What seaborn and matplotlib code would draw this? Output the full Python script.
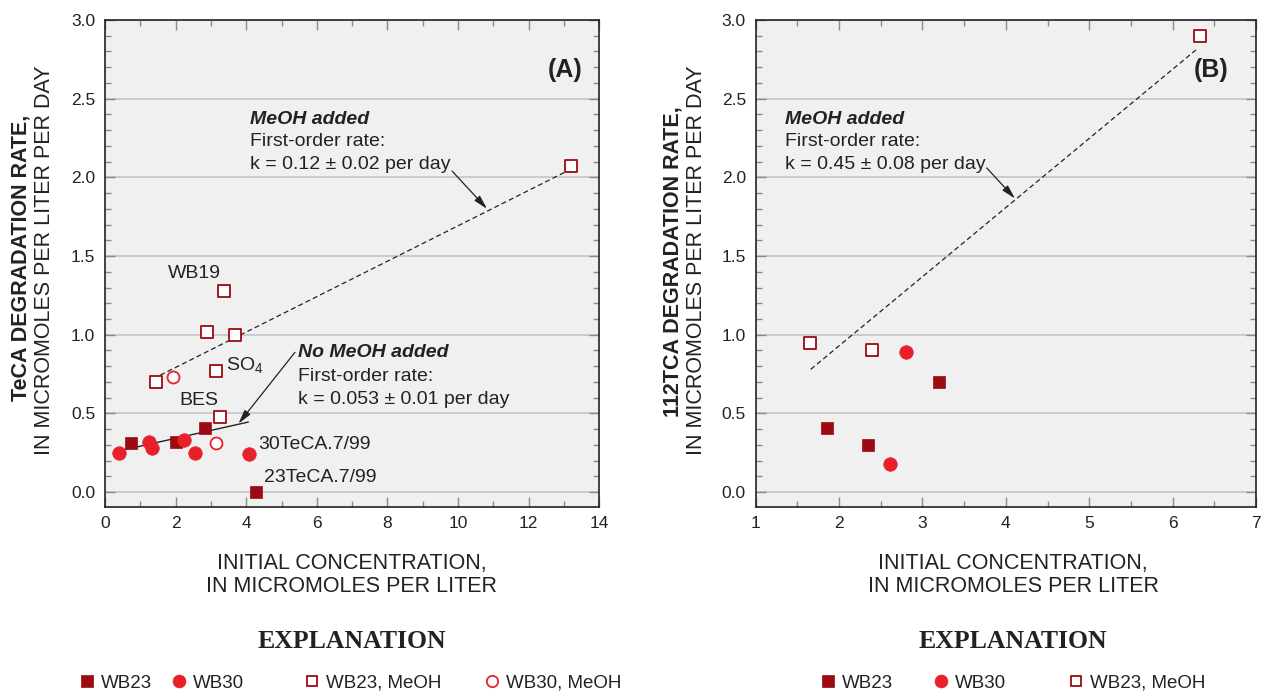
import numpy as np
import pandas as pd
import matplotlib
matplotlib.use('Agg')
import matplotlib.pyplot as plt
from matplotlib.lines import Line2D
from matplotlib.ticker import MultipleLocator
import seaborn as sns

# ---- data ----
# panel A: TeCA
a_wb23_x = [0.73, 2.01, 2.84, 4.27]
a_wb23_y = [0.31, 0.32, 0.41, 0.00]
a_wb30_x = [0.40, 1.25, 1.32, 2.24, 2.54, 4.07]
a_wb30_y = [0.25, 0.32, 0.28, 0.33, 0.25, 0.24]
a_wb23_meoh_x = [1.44, 2.90, 3.36, 3.67, 3.15, 3.25, 13.2]
a_wb23_meoh_y = [0.70, 1.02, 1.28, 1.00, 0.77, 0.48, 2.07]
a_wb30_meoh_x = [1.92, 3.14]
a_wb30_meoh_y = [0.73, 0.31]
a_fit_meoh_x = [1.36, 13.09]
a_fit_meoh_y = [0.72, 2.04]
a_fit_none_x = [0.57, 4.06]
a_fit_none_y = [0.27, 0.445]

# panel B: 112TCA
b_wb23_x = [1.855, 2.35, 3.20]
b_wb23_y = [0.41, 0.30, 0.70]
b_wb30_x = [2.61, 2.80]
b_wb30_y = [0.18, 0.89]
b_wb23_meoh_x = [1.655, 2.39, 6.33]
b_wb23_meoh_y = [0.95, 0.90, 2.90]
b_fit_meoh_x = [1.66, 6.28]
b_fit_meoh_y = [0.78, 2.81]

DARK = '#9c0a12'
RED = '#e8202a'

sns.set_theme(style='ticks')
plt.rcParams['font.family'] = ['Liberation Sans', 'DejaVu Sans']
plt.rcParams['mathtext.fontset'] = 'custom'
plt.rcParams['mathtext.rm'] = 'Liberation Sans'

W, H = 1261, 691
fig = plt.figure(figsize=(W / 100, H / 100), dpi=100)
axA = fig.add_axes([105 / W, 1 - 506.7 / H, 494.3 / W, 486.7 / H])
axB = fig.add_axes([755.7 / W, 1 - 506.7 / H, 500.3 / W, 486.7 / H])

styles = {
    'WB23': dict(marker='s', s=80, color=DARK, edgecolor=DARK, linewidth=0.5),
    'WB30': dict(marker='o', s=95, color=RED, edgecolor=RED, linewidth=0.5),
    'WB23, MeOH': dict(marker='s', s=66, color='white', edgecolor=DARK, linewidth=1.3),
    'WB30, MeOH': dict(marker='o', s=74, color='white', edgecolor=RED, linewidth=1.3),
}


def style_axes(ax, xlim, xmajor, xminor):
    ax.set_facecolor('#f0f0f0')
    ax.set_xlim(*xlim)
    ax.set_ylim(-0.093, 3.0)
    ax.xaxis.set_major_locator(MultipleLocator(xmajor))
    ax.xaxis.set_minor_locator(MultipleLocator(xminor))
    ax.yaxis.set_major_locator(MultipleLocator(0.5))
    ax.yaxis.set_minor_locator(MultipleLocator(0.1))
    ax.yaxis.set_major_formatter(matplotlib.ticker.FormatStrFormatter('%.1f'))
    ax.yaxis.grid(True, which='major', color='#c6c6c6', lw=1.3, zorder=0)
    ax.set_axisbelow(True)
    ax.tick_params(which='both', direction='in', top=True, right=True,
                   color='#8a8a8a', labelsize=12.5, labelcolor='#222222')
    ax.tick_params(which='major', length=7, width=1, pad=7)
    ax.tick_params(which='minor', length=4, width=1)
    for sp in ax.spines.values():
        sp.set_color('#222222')
        sp.set_linewidth(1.2)
    ax.set_xlabel('')
    ax.set_ylabel('')


def draw_points(ax, series):
    for name, (xs, ys) in series.items():
        sns.scatterplot(x=xs, y=ys, ax=ax, legend=False, zorder=4, **styles[name])


# ---- panel A ----
draw_points(axA, {
    'WB23': (a_wb23_x, a_wb23_y),
    'WB30': (a_wb30_x, a_wb30_y),
    'WB23, MeOH': (a_wb23_meoh_x, a_wb23_meoh_y),
    'WB30, MeOH': (a_wb30_meoh_x, a_wb30_meoh_y),
})
axA.plot(a_fit_meoh_x, a_fit_meoh_y, color='#222222', lw=0.9, dashes=(4, 2.5), zorder=3)
axA.plot(a_fit_none_x, a_fit_none_y, color='#222222', lw=1.0, zorder=3)
style_axes(axA, (0, 14), 2, 1)

tkw = dict(fontsize=14, color='#222222', va='center', ha='left')
axA.text(13.03, 2.68, '(A)', fontsize=18, fontweight='bold', ha='center', va='center', color='#222222')
axA.text(4.1, 2.37, 'MeOH added', fontweight='bold', style='italic', **tkw)
axA.text(4.1, 2.225, 'First-order rate:', **tkw)
axA.text(4.1, 2.08, 'k = 0.12 \u00b1 0.02 per day', **tkw)
axA.text(1.78, 1.39, 'WB19', **tkw)
axA.text(3.42, 0.80, r'SO$_\mathregular{4}$', **tkw)
axA.text(2.12, 0.585, 'BES', **tkw)
axA.text(5.47, 0.89, 'No MeOH added', fontweight='bold', style='italic', **tkw)
axA.text(5.47, 0.735, 'First-order rate:', **tkw)
axA.text(5.47, 0.59, 'k = 0.053 \u00b1 0.01 per day', **tkw)
axA.text(4.33, 0.30, '30TeCA.7/99', **tkw)
axA.text(4.5, 0.09, '23TeCA.7/99', **tkw)
arrow = dict(arrowstyle='-|>,head_length=0.7,head_width=0.18', color='#222222', lw=0.9,
             shrinkA=0, shrinkB=0)
axA.annotate('', xy=(10.82, 1.80), xytext=(9.83, 2.04), arrowprops=arrow)
axA.annotate('', xy=(3.78, 0.435), xytext=(5.38, 0.888), arrowprops=arrow)

# ---- panel B ----
draw_points(axB, {
    'WB23': (b_wb23_x, b_wb23_y),
    'WB30': (b_wb30_x, b_wb30_y),
    'WB23, MeOH': (b_wb23_meoh_x, b_wb23_meoh_y),
})
axB.plot(b_fit_meoh_x, b_fit_meoh_y, color='#222222', lw=0.9, dashes=(4, 2.5), zorder=3)
style_axes(axB, (1, 7), 1, 0.5)

axB.text(6.46, 2.68, '(B)', fontsize=18, fontweight='bold', ha='center', va='center', color='#222222')
axB.text(1.35, 2.37, 'MeOH added', fontweight='bold', style='italic', **tkw)
axB.text(1.35, 2.225, 'First-order rate:', **tkw)
axB.text(1.35, 2.08, 'k = 0.45 \u00b1 0.08 per day', **tkw)
axB.annotate('', xy=(4.11, 1.865), xytext=(3.77, 2.06), arrowprops=arrow)

# ---- axis titles ----
lab = dict(fontsize=15.5, color='#222222', ha='center', va='center')
fig.text(21 / W, 1 - 258 / H, 'TeCA DEGRADATION RATE,', rotation=90, fontweight='bold', **lab)
fig.text(45 / W, 1 - 260 / H, 'IN MICROMOLES PER LITER PER DAY', rotation=90, **lab)
fig.text(673 / W, 1 - 262 / H, '112TCA DEGRADATION RATE,', rotation=90, fontweight='bold', **lab)
fig.text(696 / W, 1 - 260 / H, 'IN MICROMOLES PER LITER PER DAY', rotation=90, **lab)
for cx in (352, 1013):
    fig.text(cx / W, 1 - 563 / H, 'INITIAL CONCENTRATION,', **lab)
    fig.text(cx / W, 1 - 586 / H, 'IN MICROMOLES PER LITER', **lab)
    fig.text(cx / W, 1 - 642 / H, 'EXPLANATION', fontsize=18.5, fontweight='bold',
             family=['Liberation Serif', 'DejaVu Serif'], ha='center', va='center', color='#222222')

# ---- explanation (legend entries) ----
def handle(name):
    st = styles[name]
    return Line2D([], [], linestyle='none', marker=st['marker'], markersize=np.sqrt(st['s']) * 0.95,
                  markerfacecolor=st['color'], markeredgecolor=st['edgecolor'],
                  markeredgewidth=st['linewidth'])

legend_names = ['WB23', 'WB30', 'WB23, MeOH', 'WB30, MeOH']
legend_xA = [86, 178, 311, 491]
legend_xB = [827, 940, 1075]
for names, xs in ((legend_names, legend_xA), (legend_names[:3], legend_xB)):
    for name, mx in zip(names, xs):
        fig.legend(handles=[handle(name)], labels=[name], loc='center left',
                   bbox_to_anchor=((mx - 7) / W, 1 - 683 / H), frameon=False,
                   borderpad=0, borderaxespad=0, handlelength=0.8, handletextpad=0.35,
                   fontsize=13.5, labelcolor='#222222')

fig.savefig('out.png', dpi=100, facecolor='white')
